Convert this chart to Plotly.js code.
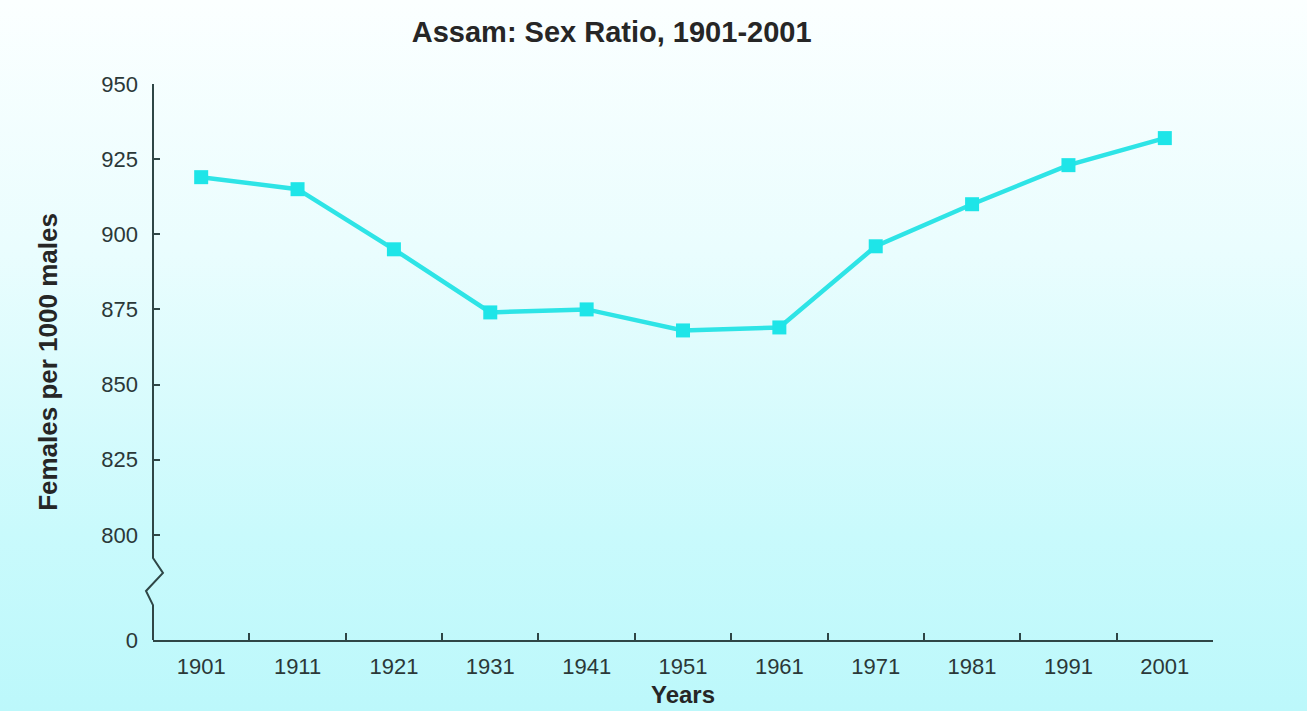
<!DOCTYPE html>
<html>
<head>
<meta charset="utf-8">
<script src="https://cdn.plot.ly/plotly-3.0.1.min.js"></script>
<style>
  html, body { margin: 0; padding: 0; width: 1307px; height: 711px; overflow: hidden;
    background: linear-gradient(to bottom, #fbffff 0%, #eafdfe 35%, #c9fafc 75%, #bcf8fb 100%); }
  #chart { width: 1307px; height: 711px; }
</style>
</head>
<body>
<div id="chart"></div>
<script>
const years = ['1901', '1911', '1921', '1931', '1941', '1951', '1961', '1971', '1981', '1991', '2001'];
const sexRatio = [919, 915, 895, 874, 875, 868, 869, 896, 910, 923, 932];
const yTickVals = [765, 800, 825, 850, 875, 900, 925, 950];
const yTickText = ['0', '800', '825', '850', '875', '900', '925', '950'];
const chartTitle = 'Assam: Sex Ratio, 1901-2001';
const xTitle = 'Years';
const yTitle = 'Females per 1000 males';

const axisColor = '#2f4646';
const textColor = '#2b3838';
const lineColor = '#2ee4e6';

const trace = {
  x: years,
  y: sexRatio,
  type: 'scatter',
  mode: 'lines+markers',
  line: { color: lineColor, width: 4.5 },
  marker: { symbol: 'square', size: 14, color: '#1ee5e8' },
  hoverinfo: 'x+y'
};

// y axis line with a break (zigzag) between 800 and 0
const yAxisPath = {
  type: 'path',
  xref: 'paper', yref: 'y',
  path: 'M 0 950 L 0 792.3 L 0.0094 787.3 L -0.0066 781.3 L 0 776.6 L 0 765',
  line: { color: axisColor, width: 2 }
};

const layout = {
  width: 1307, height: 711,
  paper_bgcolor: 'rgba(0,0,0,0)',
  plot_bgcolor: 'rgba(0,0,0,0)',
  margin: { l: 153, r: 94, t: 84, b: 71 },
  showlegend: false,
  font: { family: 'Liberation Sans, Arial, sans-serif', color: textColor },
  title: {
    text: '<b>' + chartTitle + '</b>',
    font: { size: 29, color: '#262626', family: 'Liberation Sans, Arial, sans-serif' },
    xref: 'container', x: 0.468, xanchor: 'center',
    yref: 'container', y: 0.955, yanchor: 'middle'
  },
  xaxis: {
    type: 'category',
    range: [-0.5, 10.5],
    showline: true, linecolor: axisColor, linewidth: 2,
    showgrid: false, zeroline: false,
    ticks: 'inside', ticklen: 7, tickwidth: 2, tickcolor: axisColor,
    tickson: 'boundaries',
    ticklabelstandoff: 6,
    tickfont: { size: 22, color: textColor },
    title: { text: '<b>' + xTitle + '</b>', font: { size: 24, color: '#262626' }, standoff: 8 },
    fixedrange: true
  },
  yaxis: {
    range: [765, 950],
    tickmode: 'array', tickvals: yTickVals, ticktext: yTickText,
    showline: false, showgrid: false, zeroline: false,
    ticks: 'inside', ticklen: 7, tickwidth: 2, tickcolor: axisColor,
    ticklabelstandoff: 14,
    tickfont: { size: 22, color: textColor },
    title: { text: '<b>' + yTitle + '</b>', font: { size: 26, color: '#262626' }, standoff: 36 },
    fixedrange: true
  },
  shapes: [yAxisPath]
};

Plotly.newPlot('chart', [trace], layout, { displayModeBar: false, staticPlot: false });
</script>
</body>
</html>
